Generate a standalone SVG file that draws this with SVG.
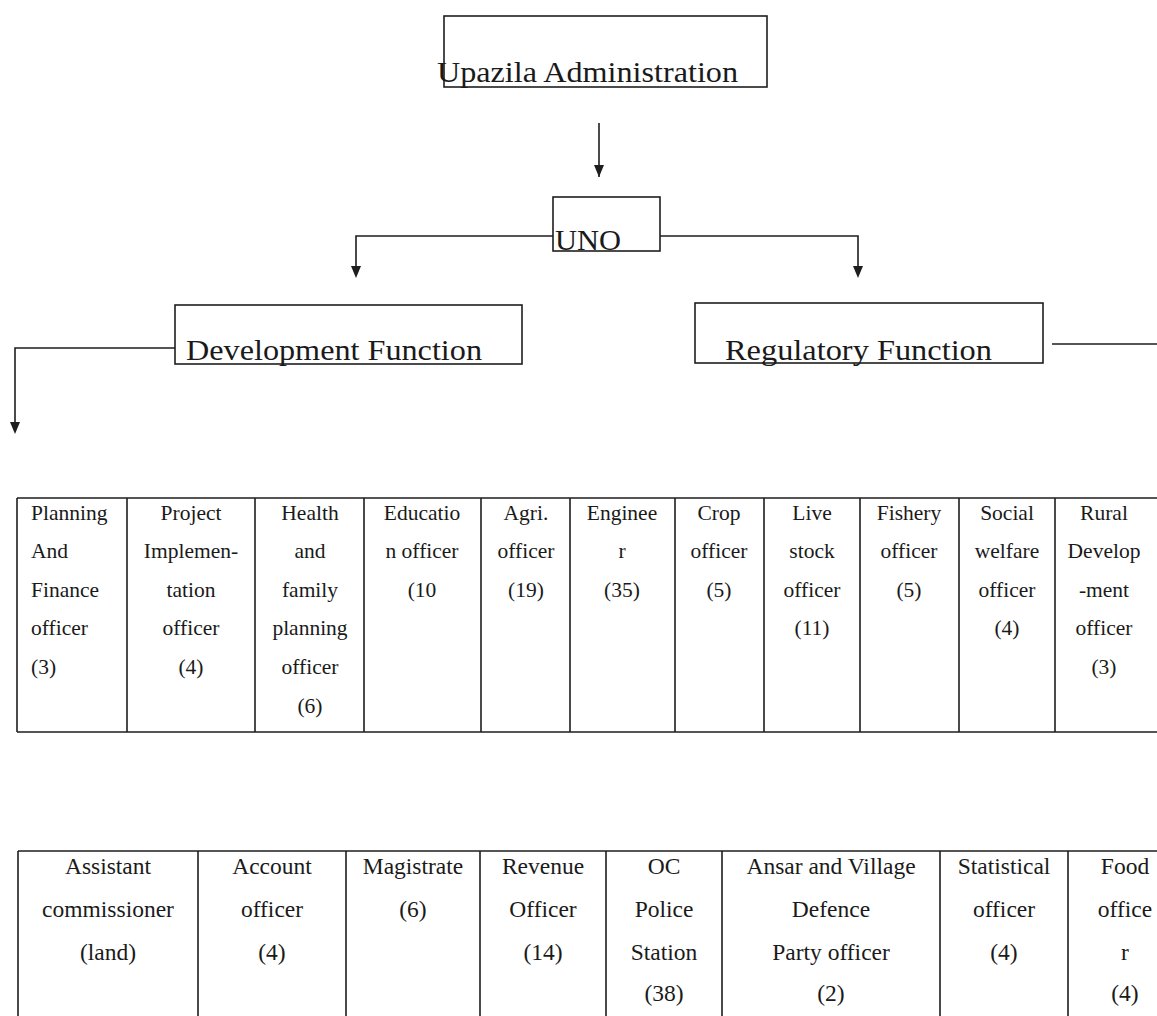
<svg xmlns="http://www.w3.org/2000/svg" width="1157" height="1016" viewBox="0 0 1157 1016">
<style>
.bx{fill:none;stroke:#1e1e1e;stroke-width:1.6}
.ln{fill:none;stroke:#1e1e1e;stroke-width:1.6}
.lbl{font-family:"Liberation Serif",serif;font-size:29px;fill:#1a1a1a}
.t1{font-family:"Liberation Serif",serif;font-size:21.5px;fill:#1a1a1a;text-anchor:middle}
.t1l{font-family:"Liberation Serif",serif;font-size:21.5px;fill:#1a1a1a}
.t2{font-family:"Liberation Serif",serif;font-size:23.5px;fill:#1a1a1a;text-anchor:middle}
</style>
<defs>
<marker id="ah" viewBox="0 0 10 12" refX="5" refY="12" markerWidth="10" markerHeight="12" markerUnits="userSpaceOnUse" orient="auto-start-reverse">
<path d="M0,0 L10,0 L5,12 Z" fill="#1e1e1e"/>
</marker>
</defs>
<rect width="1157" height="1016" fill="#ffffff"/>

<g id="connectors">
<line class="ln" x1="599" y1="123" x2="599" y2="177" style="marker-end:none"/>
<path d="M594,165 L604,165 L599,177 Z" fill="#1e1e1e"/>
<path class="ln" d="M553,236 H356 V266"/>
<path d="M351,266 L361,266 L356,278 Z" fill="#1e1e1e"/>
<path class="ln" d="M660,236 H858 V266"/>
<path d="M853,266 L863,266 L858,278 Z" fill="#1e1e1e"/>
<path class="ln" d="M175,348 H15 V422"/>
<path d="M10,422 L20,422 L15,434 Z" fill="#1e1e1e"/>
<path class="ln" d="M1052,344 H1157"/>
</g>

<g id="upazila">
<rect class="bx" x="444" y="16" width="323" height="71"/>
<text class="lbl" x="437" y="82" textLength="301" lengthAdjust="spacingAndGlyphs">Upazila Administration</text>
</g>
<g id="uno">
<rect class="bx" x="553" y="197" width="107" height="54"/>
<text class="lbl" x="555" y="250" textLength="66" lengthAdjust="spacingAndGlyphs">UNO</text>
</g>
<g id="development">
<rect class="bx" x="175" y="305" width="347" height="59"/>
<text class="lbl" x="186" y="360" textLength="296" lengthAdjust="spacingAndGlyphs">Development Function</text>
</g>
<g id="regulatory">
<rect class="bx" x="695" y="303" width="348" height="60"/>
<text class="lbl" x="725" y="360" textLength="267" lengthAdjust="spacingAndGlyphs">Regulatory Function</text>
</g>

<g id="development-table">
<path class="ln" d="M17,498 H1157 M17,732 H1157 M17,498 V732 M127,498 V732 M255,498 V732 M364,498 V732 M481,498 V732 M570,498 V732 M675,498 V732 M764,498 V732 M860,498 V732 M959,498 V732 M1055,498 V732"/>
<g id="planning-finance">
<text class="t1l" x="31" y="520">Planning</text>
<text class="t1l" x="31" y="558">And</text>
<text class="t1l" x="31" y="597">Finance</text>
<text class="t1l" x="31" y="635">officer</text>
<text class="t1l" x="31" y="674">(3)</text>
</g>
<g id="project-implementation">
<text class="t1" x="191" y="520">Project</text>
<text class="t1" x="191" y="558">Implemen-</text>
<text class="t1" x="191" y="597">tation</text>
<text class="t1" x="191" y="635">officer</text>
<text class="t1" x="191" y="674">(4)</text>
</g>
<g id="health-family">
<text class="t1" x="310" y="520">Health</text>
<text class="t1" x="310" y="558">and</text>
<text class="t1" x="310" y="597">family</text>
<text class="t1" x="310" y="635">planning</text>
<text class="t1" x="310" y="674">officer</text>
<text class="t1" x="310" y="713">(6)</text>
</g>
<g id="education">
<text class="t1" x="422" y="520">Educatio</text>
<text class="t1" x="422" y="558">n officer</text>
<text class="t1" x="422" y="597">(10</text>
</g>
<g id="agri">
<text class="t1" x="526" y="520">Agri.</text>
<text class="t1" x="526" y="558">officer</text>
<text class="t1" x="526" y="597">(19)</text>
</g>
<g id="engineer">
<text class="t1" x="622" y="520">Enginee</text>
<text class="t1" x="622" y="558">r</text>
<text class="t1" x="622" y="597">(35)</text>
</g>
<g id="crop">
<text class="t1" x="719" y="520">Crop</text>
<text class="t1" x="719" y="558">officer</text>
<text class="t1" x="719" y="597">(5)</text>
</g>
<g id="livestock">
<text class="t1" x="812" y="520">Live</text>
<text class="t1" x="812" y="558">stock</text>
<text class="t1" x="812" y="597">officer</text>
<text class="t1" x="812" y="635">(11)</text>
</g>
<g id="fishery">
<text class="t1" x="909" y="520">Fishery</text>
<text class="t1" x="909" y="558">officer</text>
<text class="t1" x="909" y="597">(5)</text>
</g>
<g id="social-welfare">
<text class="t1" x="1007" y="520">Social</text>
<text class="t1" x="1007" y="558">welfare</text>
<text class="t1" x="1007" y="597">officer</text>
<text class="t1" x="1007" y="635">(4)</text>
</g>
<g id="rural-development">
<text class="t1" x="1104" y="520">Rural</text>
<text class="t1" x="1104" y="558">Develop</text>
<text class="t1" x="1104" y="597">-ment</text>
<text class="t1" x="1104" y="635">officer</text>
<text class="t1" x="1104" y="674">(3)</text>
</g>
</g>

<g id="regulatory-table">
<path class="ln" d="M18,851 H1157 M18,851 V1016 M198,851 V1016 M346,851 V1016 M480,851 V1016 M606,851 V1016 M722,851 V1016 M940,851 V1016 M1068,851 V1016"/>
<g id="assistant-commissioner">
<text class="t2" x="108" y="874">Assistant</text>
<text class="t2" x="108" y="917">commissioner</text>
<text class="t2" x="108" y="960">(land)</text>
</g>
<g id="account">
<text class="t2" x="272" y="874">Account</text>
<text class="t2" x="272" y="917">officer</text>
<text class="t2" x="272" y="960">(4)</text>
</g>
<g id="magistrate">
<text class="t2" x="413" y="874">Magistrate</text>
<text class="t2" x="413" y="917">(6)</text>
</g>
<g id="revenue">
<text class="t2" x="543" y="874">Revenue</text>
<text class="t2" x="543" y="917">Officer</text>
<text class="t2" x="543" y="960">(14)</text>
</g>
<g id="oc-police">
<text class="t2" x="664" y="874">OC</text>
<text class="t2" x="664" y="917">Police</text>
<text class="t2" x="664" y="960">Station</text>
<text class="t2" x="664" y="1001">(38)</text>
</g>
<g id="ansar-vdp">
<text class="t2" x="831" y="874">Ansar and Village</text>
<text class="t2" x="831" y="917">Defence</text>
<text class="t2" x="831" y="960">Party officer</text>
<text class="t2" x="831" y="1001">(2)</text>
</g>
<g id="statistical">
<text class="t2" x="1004" y="874">Statistical</text>
<text class="t2" x="1004" y="917">officer</text>
<text class="t2" x="1004" y="960">(4)</text>
</g>
<g id="food">
<text class="t2" x="1125" y="874">Food</text>
<text class="t2" x="1125" y="917">office</text>
<text class="t2" x="1125" y="960">r</text>
<text class="t2" x="1125" y="1001">(4)</text>
</g>
</g>
</svg>
